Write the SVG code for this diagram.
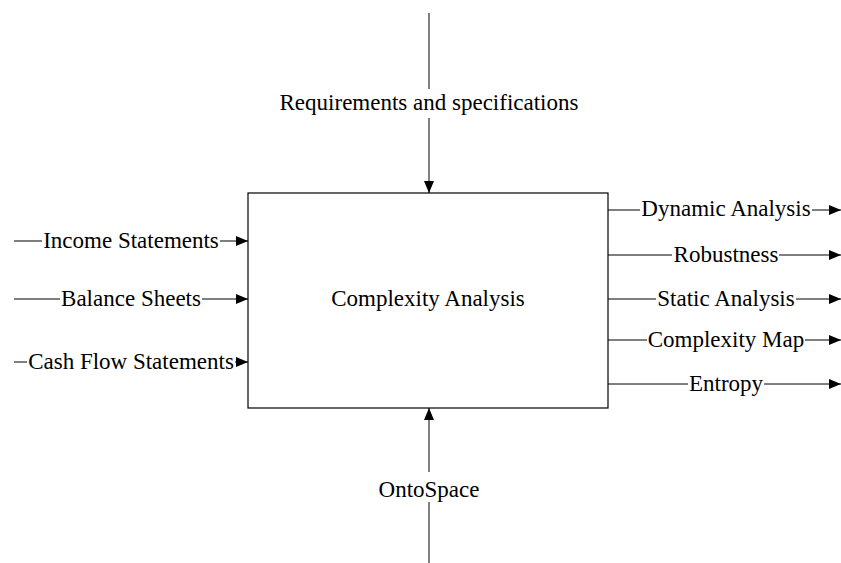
<svg xmlns="http://www.w3.org/2000/svg" width="841" height="563" viewBox="0 0 841 563">
<style>
text{font-family:"Liberation Serif","Times New Roman",serif;font-size:23px;fill:#000;text-anchor:middle}
.c{stroke:#000;stroke-width:1;fill:none}
.box{fill:#fff;stroke:#000;stroke-width:1.2}
</style>
<defs>
<marker id="ah" markerUnits="userSpaceOnUse" markerWidth="13" markerHeight="11" refX="12" refY="5" orient="auto">
<path d="M0,0 L12,5 L0,10 Z" fill="#000"/>
</marker>
</defs>
<rect width="841" height="563" fill="#fff"/>
<g id="connectors">
<line class="c" x1="429" y1="13" x2="429" y2="89"/>
<line class="c" x1="429" y1="118" x2="429" y2="193" marker-end="url(#ah)"/>
<line class="c" x1="429" y1="563" x2="429" y2="502"/>
<line class="c" x1="429" y1="472" x2="429" y2="408" marker-end="url(#ah)"/>
<line class="c" x1="14" y1="241" x2="42" y2="241"/>
<line class="c" x1="220" y1="241" x2="248" y2="241" marker-end="url(#ah)"/>
<line class="c" x1="14" y1="299" x2="60" y2="299"/>
<line class="c" x1="202" y1="299" x2="248" y2="299" marker-end="url(#ah)"/>
<line class="c" x1="14" y1="362" x2="27" y2="362"/>
<line class="c" x1="235" y1="362" x2="248" y2="362" marker-end="url(#ah)"/>
<line class="c" x1="608" y1="210" x2="640" y2="210"/>
<line class="c" x1="812" y1="210" x2="841" y2="210" marker-end="url(#ah)"/>
<line class="c" x1="608" y1="255" x2="672" y2="255"/>
<line class="c" x1="779" y1="255" x2="841" y2="255" marker-end="url(#ah)"/>
<line class="c" x1="608" y1="299" x2="656" y2="299"/>
<line class="c" x1="796" y1="299" x2="841" y2="299" marker-end="url(#ah)"/>
<line class="c" x1="608" y1="340" x2="647" y2="340"/>
<line class="c" x1="805" y1="340" x2="841" y2="340" marker-end="url(#ah)"/>
<line class="c" x1="608" y1="384" x2="688" y2="384"/>
<line class="c" x1="764" y1="384" x2="841" y2="384" marker-end="url(#ah)"/>
</g>
<g id="node-complexity-analysis">
<rect class="box" x="248" y="193" width="360" height="215"/>
<text x="428" y="306">Complexity Analysis</text>
</g>
<g id="label-requirements"><text x="429" y="110">Requirements and specifications</text></g>
<g id="label-ontospace"><text x="429" y="497">OntoSpace</text></g>
<g id="label-income"><text x="131" y="248">Income Statements</text></g>
<g id="label-balance"><text x="131" y="306">Balance Sheets</text></g>
<g id="label-cashflow"><text x="131" y="369">Cash Flow Statements</text></g>
<g id="label-dynamic"><text x="726" y="216">Dynamic Analysis</text></g>
<g id="label-robustness"><text x="726" y="262">Robustness</text></g>
<g id="label-static"><text x="726" y="306">Static Analysis</text></g>
<g id="label-map"><text x="726" y="347">Complexity Map</text></g>
<g id="label-entropy"><text x="726" y="391">Entropy</text></g>
</svg>
